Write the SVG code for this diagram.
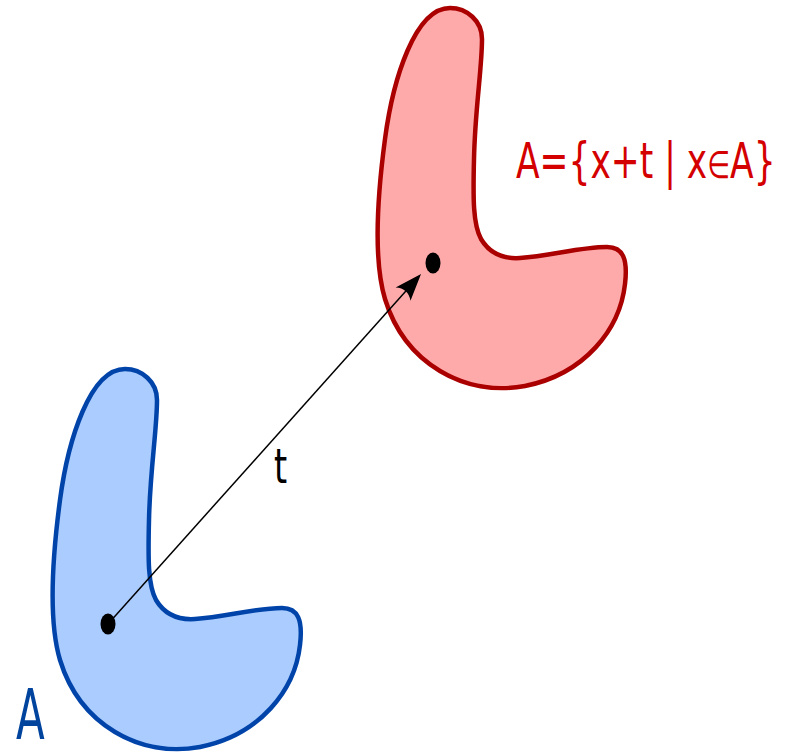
<svg xmlns="http://www.w3.org/2000/svg" width="786" height="755" viewBox="0 0 786 755">
<style>
.lbl{font-family:"DejaVu Sans","Liberation Sans",sans-serif}
.dot{fill:#000}
</style>
<defs>
<path id="shape" d="M125,369 C142,369 157,382 157,400 C157,430 150,470 149,520 C148,560 148,585 156,600 C165,615 180,620 195,619 C225,617 255,608 282,608 C298,608 303,620 300,645 C295,690 260,735 200,747 C140,758 80,725 60,660 C48,620 52,560 60,500 C68,440 90,369 125,369 Z"/>
<marker id="arr" markerUnits="userSpaceOnUse" viewBox="-30 -12 32 24" markerWidth="32" markerHeight="24" refX="-20" refY="0" orient="auto">
<path d="M0,0 L-27,-10 Q-19,0 -27,10 Z" fill="#000"/>
</marker>
</defs>
<g id="nodeA">
<use href="#shape" fill="#aaccff" stroke="#0044aa" stroke-width="4.5"/>
<ellipse class="dot" cx="108" cy="624" rx="7.5" ry="10.5"/>
<text class="lbl" transform="translate(16,739) scale(0.6,1)" font-size="70" fill="#00449e">A</text>
</g>
<g id="nodeB">
<use href="#shape" transform="translate(325,-361)" fill="#ffaaaa" stroke="#aa0000" stroke-width="4.5"/>
<ellipse class="dot" cx="433" cy="263" rx="7.5" ry="10.5"/>
<text class="lbl" transform="translate(516,178) scale(0.69,1)" font-size="50" fill="#d40000">A={x+t | x<tspan font-size="38">∈</tspan>A}</text>
</g>
<g id="connectors">
<line x1="108" y1="624" x2="407.7" y2="288.9" stroke="#000" stroke-width="1.5" marker-end="url(#arr)"/>
<text class="lbl" transform="translate(274,483) scale(0.7,1)" font-size="48" fill="#000">t</text>
</g>
</svg>
